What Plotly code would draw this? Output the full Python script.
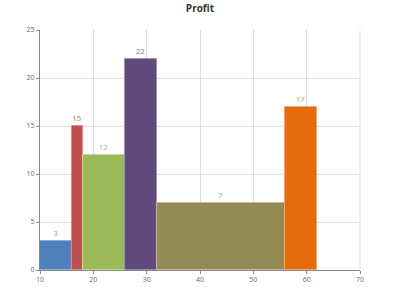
import plotly.graph_objects as go
import numpy as np

starts = [10, 16, 18, 26, 32, 56]
widths = [6, 2, 8, 6, 24, 6]
values = [3, 15, 12, 22, 7, 17]
colors = ["#4f81bd", "#c0504d", "#9bbb59", "#604a7b", "#948a54", "#e46c0a"]
border_colors = ["#8fb0d9", "#dc8c8a", "#c4d99a", "#9f8cb8", "#c4bd93", "#f4a870"]
label_colors = ["#7fa3d3", "#d27775", "#a8c46c", "#8b77a3", "#aaa27a", "#eb8d45"]
x_ticks = [10, 20, 30, 40, 50, 60, 70]
y_ticks = [0, 5, 10, 15, 20, 25]

centers = (np.array(starts) + np.array(widths) / 2).tolist()

fig = go.Figure(go.Bar(
    x=centers, y=values, width=widths,
    marker=dict(color=colors, line=dict(color=border_colors, width=1)),
    text=[str(v) for v in values], textposition="outside",
    textfont=dict(color=label_colors, size=8, family="Open Sans"),
    outsidetextfont=dict(color=label_colors, size=8, family="Open Sans"),
    cliponaxis=False,
))

axis_common = dict(
    showgrid=True, gridcolor="#dedede", gridwidth=1,
    showline=True, linecolor="#888888", linewidth=1,
    ticks="outside", ticklen=3, tickcolor="#888888",
    tickfont=dict(size=7, color="#666666", family="Open Sans"),
    zeroline=False,
)

fig.update_layout(
    width=400, height=300,
    margin=dict(l=40, r=40, t=30, b=30),
    paper_bgcolor="white", plot_bgcolor="white",
    title=dict(text="<b>Profit</b>", x=0.5, xanchor="center", y=0.985, yanchor="top",
               font=dict(size=10, color="#333333", family="Open Sans")),
    showlegend=False,
    bargap=0,
    shapes=[dict(type="line", xref="paper", yref="paper", x0=1, x1=1, y0=0, y1=1,
                 line=dict(color="#dedede", width=1), layer="below")],
)
fig.update_xaxes(range=[10, 70], tickvals=x_ticks, **axis_common)
fig.update_yaxes(range=[0, 25], tickvals=y_ticks, **axis_common)
fig.write_html("out.html")
